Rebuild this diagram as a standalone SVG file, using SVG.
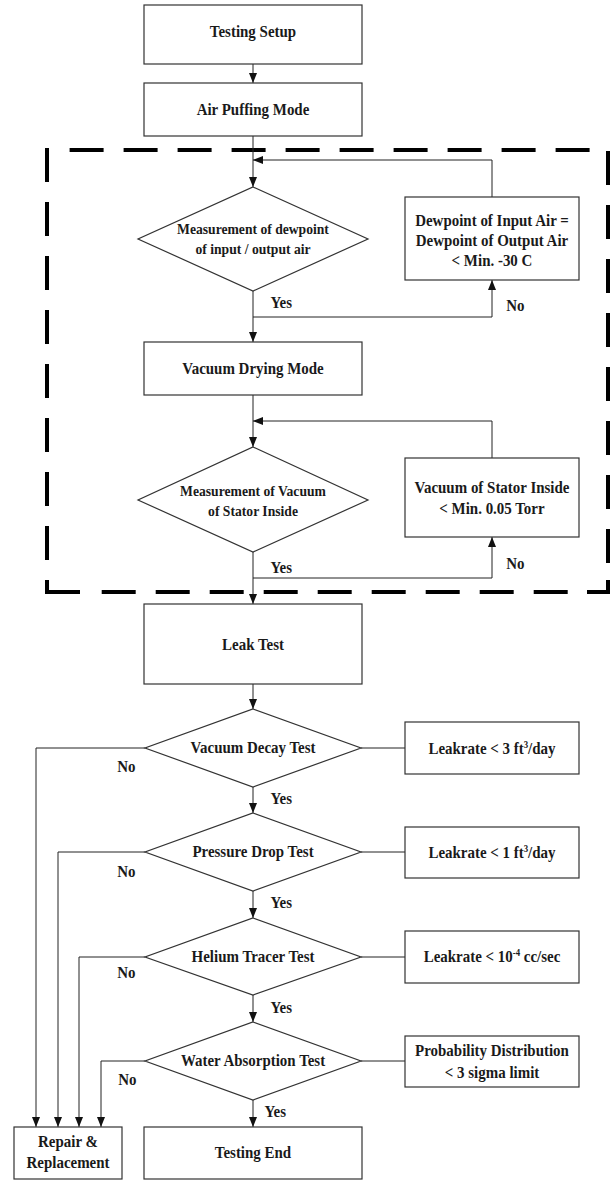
<svg xmlns="http://www.w3.org/2000/svg" width="612" height="1180" viewBox="0 0 612 1180">
<defs>
<marker id="ah" markerUnits="userSpaceOnUse" markerWidth="10" markerHeight="8" refX="10" refY="4" orient="auto">
<path d="M0,0 L10,4 L0,8 z" fill="#111"/>
</marker>
</defs>
<style>
rect,polygon{fill:#fff;stroke:#333;stroke-width:1.2}
text{font-family:"Liberation Serif","Times New Roman",serif;font-weight:bold;font-size:17px;fill:#1a1a1a;text-anchor:middle;transform-box:fill-box;transform-origin:center;transform:scaleX(0.88)}
text.s{font-size:15.5px}
text.l{text-anchor:start}
.c path,.c line{fill:none;stroke:#222;stroke-width:1}
.ar{marker-end:url(#ah)}
.dash line{stroke:#000;stroke-width:4;stroke-dasharray:34 20}
.dash path{fill:none;stroke:#000;stroke-width:4}
tspan.sup{font-size:10px}
</style>

<g id="loop-border" class="dash">
<line x1="69.6" y1="150" x2="608" y2="150"/>
<line x1="47" y1="148" x2="47" y2="575"/>
<line x1="608" y1="151" x2="608" y2="575"/>
<line x1="101.7" y1="592" x2="587" y2="592"/>
<path d="M47,580 V592 H80"/>
<path d="M608,580 V592 H587"/>
</g>

<g id="connectors" class="c">
<line class="ar" x1="253" y1="64" x2="253" y2="83"/>
<line class="ar" x1="253" y1="136" x2="253" y2="187"/>
<path class="ar" d="M492,197 V160 H253"/>
<line class="ar" x1="253" y1="291" x2="253" y2="342"/>
<path class="ar" d="M253,317 H492 V280"/>
<line class="ar" x1="253" y1="395" x2="253" y2="447"/>
<path class="ar" d="M492,458 V421 H253"/>
<line class="ar" x1="253" y1="552" x2="253" y2="604"/>
<path class="ar" d="M253,578 H492 V537"/>
<line class="ar" x1="253" y1="684" x2="253" y2="709"/>
<line x1="361" y1="748" x2="405" y2="748"/>
<path class="ar" d="M145,748 H36 V1127"/>
<line class="ar" x1="253" y1="787" x2="253" y2="813"/>
<line x1="361" y1="852" x2="405" y2="852"/>
<path class="ar" d="M145,852 H58 V1127"/>
<line class="ar" x1="253" y1="891" x2="253" y2="918"/>
<line x1="361" y1="957" x2="405" y2="957"/>
<path class="ar" d="M145,957 H79 V1127"/>
<line class="ar" x1="253" y1="995" x2="253" y2="1022"/>
<line x1="361" y1="1061" x2="405" y2="1061"/>
<path class="ar" d="M145,1061 H101 V1127"/>
<line class="ar" x1="253" y1="1100" x2="253" y2="1127"/>
</g>

<g id="labels">
<text class="l" x="269" y="308">Yes</text>
<text class="l" x="505" y="311">No</text>
<text class="l" x="269" y="573">Yes</text>
<text class="l" x="505" y="569">No</text>
<text class="l" x="116" y="772">No</text>
<text class="l" x="269" y="804">Yes</text>
<text class="l" x="116" y="877">No</text>
<text class="l" x="269" y="908">Yes</text>
<text class="l" x="116" y="978">No</text>
<text class="l" x="269" y="1013">Yes</text>
<text class="l" x="117" y="1085">No</text>
<text class="l" x="263" y="1117">Yes</text>
</g>

<g id="testing-setup"><rect x="144" y="5" width="218" height="59"/><text x="253" y="37">Testing Setup</text></g>
<g id="air-puffing"><rect x="144" y="83" width="218" height="53"/><text x="253" y="115">Air Puffing Mode</text></g>
<g id="dewpoint-decision"><polygon points="253,187 368,239 253,291 138,239"/><text class="s" x="253" y="234">Measurement of dewpoint</text><text class="s" x="253" y="254">of input / output air</text></g>
<g id="dewpoint-criterion"><rect x="405" y="197" width="174" height="83"/><text x="492" y="226">Dewpoint of Input Air =</text><text x="492" y="246">Dewpoint of Output Air</text><text x="492" y="266">&lt;  Min. -30 C</text></g>
<g id="vacuum-drying"><rect x="144" y="342" width="218" height="53"/><text x="253" y="374">Vacuum Drying Mode</text></g>
<g id="vacuum-decision"><polygon points="253,447 368,500 253,552 138,500"/><text class="s" x="253" y="496">Measurement of Vacuum</text><text class="s" x="253" y="516">of Stator Inside</text></g>
<g id="vacuum-criterion"><rect x="405" y="458" width="174" height="79"/><text x="492" y="493">Vacuum of Stator Inside</text><text x="492" y="514">&lt;  Min. 0.05 Torr</text></g>
<g id="leak-test"><rect x="144" y="604" width="218" height="80"/><text x="253" y="650">Leak Test</text></g>
<g id="vacuum-decay"><polygon points="253,709 361,748 253,787 145,748"/><text x="253" y="753">Vacuum Decay Test</text></g>
<g id="vacuum-decay-criterion"><rect x="405" y="722" width="174" height="52"/><text x="492" y="754">Leakrate &lt; 3 ft<tspan class="sup" dy="-6">3</tspan><tspan dy="6">/day</tspan></text></g>
<g id="pressure-drop"><polygon points="253,813 361,852 253,891 145,852"/><text x="253" y="857">Pressure Drop Test</text></g>
<g id="pressure-drop-criterion"><rect x="405" y="827" width="174" height="51"/><text x="492" y="858">Leakrate &lt; 1 ft<tspan class="sup" dy="-6">3</tspan><tspan dy="6">/day</tspan></text></g>
<g id="helium-tracer"><polygon points="253,918 361,957 253,995 145,957"/><text x="253" y="962">Helium Tracer Test</text></g>
<g id="helium-criterion"><rect x="405" y="931" width="174" height="52"/><text x="492" y="962">Leakrate &lt; 10<tspan class="sup" dy="-6">-4</tspan><tspan dy="6"> cc/sec</tspan></text></g>
<g id="water-absorption"><polygon points="253,1022 361,1061 253,1100 145,1061"/><text x="253" y="1066">Water Absorption Test</text></g>
<g id="water-criterion"><rect x="405" y="1036" width="174" height="51"/><text x="492" y="1056">Probability Distribution</text><text x="492" y="1078">&lt; 3 sigma limit</text></g>
<g id="repair"><rect x="14" y="1127" width="108" height="52"/><text x="68" y="1147">Repair &amp;</text><text x="68" y="1168">Replacement</text></g>
<g id="testing-end"><rect x="144" y="1127" width="218" height="52"/><text x="253" y="1158">Testing End</text></g>
</svg>
